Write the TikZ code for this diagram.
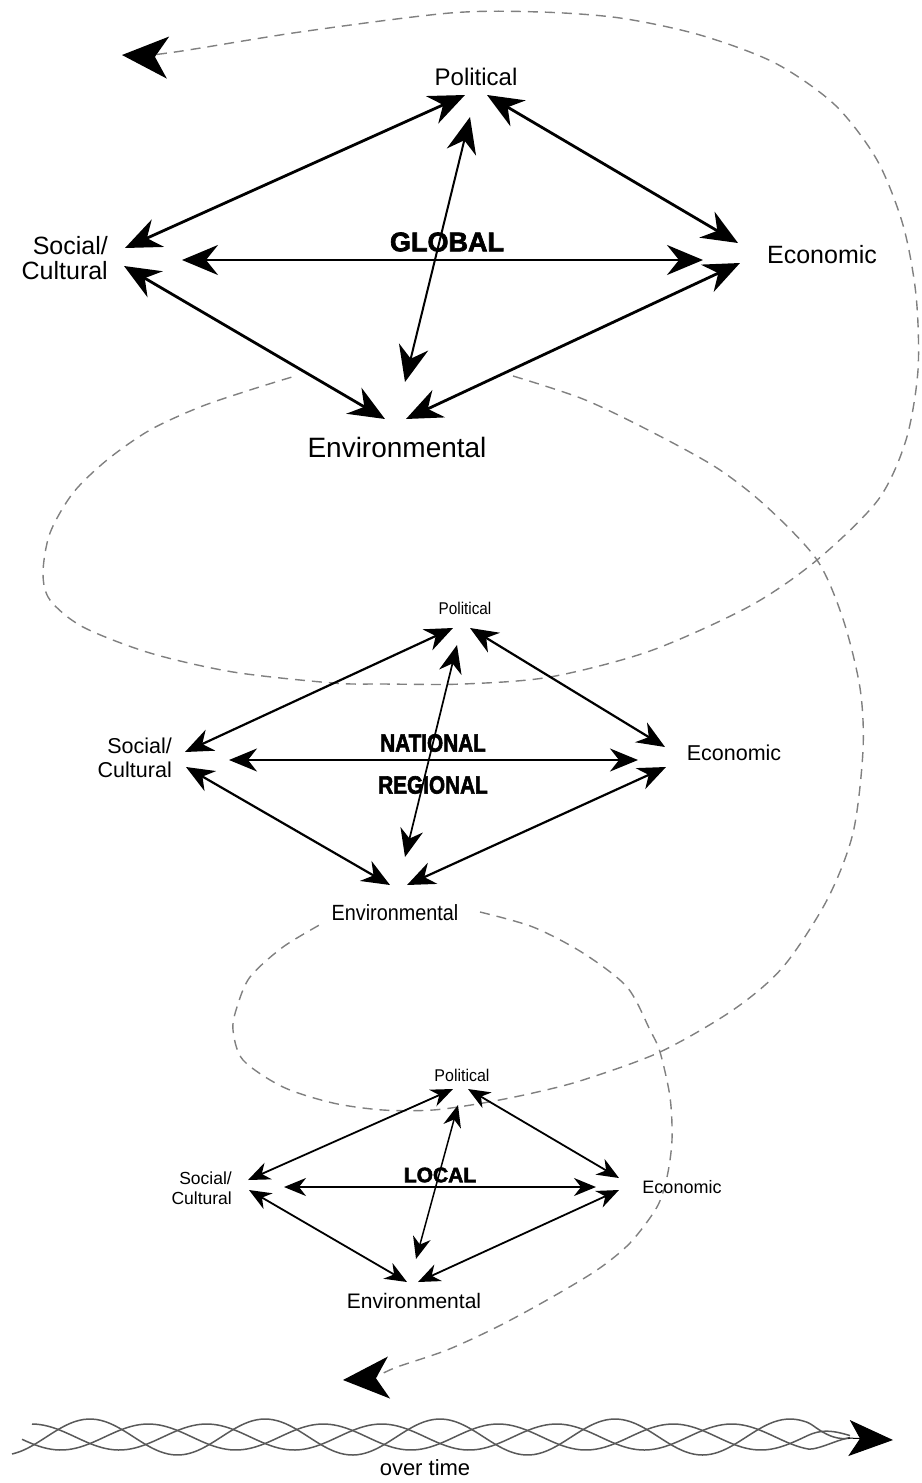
\documentclass[tikz,border=0pt]{standalone}
\usepackage{fontspec}
\setmainfont{Liberation Sans}
\newfontfamily\heavyfont[FakeBold=2.5]{Liberation Sans Bold}
\usetikzlibrary{arrows.meta}

\begin{document}
\begin{tikzpicture}[x=1pt,y=-1pt,
  lbl/.style={inner sep=0pt, font=\fontsize{#1}{#1}\selectfont},
  levelname/.style={inner sep=0pt, font=\heavyfont\fontsize{#1}{#1}\selectfont},
  glink/.style={line width=2.8pt, <->, >={Stealth[length=36pt,width=30pt,inset=12pt]}},
  gaxis/.style={glink, line width=2pt},
  nlink/.style={line width=2.2pt, <->, >={Stealth[length=28pt,width=23pt,inset=9pt]}},
  naxis/.style={nlink, line width=1.7pt},
  llink/.style={line width=1.8pt, <->, >={Stealth[length=22pt,width=18pt,inset=7pt]}},
  laxis/.style={llink, line width=1.5pt},
  coil/.style={draw=black!50, line width=1.4pt, dash pattern=on 10pt off 7pt},
  bigtip/.tip={Stealth[length=46pt,width=42pt,inset=13pt,color=black]},
  strand/.style={draw=black!65, line width=1.5pt}]
\useasboundingbox (0,0) rectangle (921,1483);

\coordinate (coilstart) at (122,55);
\coordinate (coilend) at (343,1380);
\draw[coil, bigtip-] plot[smooth] coordinates {(coilstart) (168,53) (300,32) (450,13) (540,12) (620,18) (700,35) (775,63) (835,105) (877,160) (903,225) (916,295) (918,370) (906,440) (878,500) (817,560) (750,606) (650,651) (550,677) (463,684) (383,684) (333,683) (233,672) (150,653) (83,627) (50,600) (43,573) (50,533) (73,493) (107,460) (150,430) (200,407) (250,390) (292,377)};
\draw[coil] plot[smooth] coordinates {(513,376) (583,399) (650,431) (717,468) (767,507) (817,560) (843,619) (860,688) (863,750) (853,833) (827,900) (783,967) (733,1010) (660,1052) (583,1080) (533,1093) (483,1103) (433,1110) (383,1110) (333,1103) (283,1087) (243,1060) (233,1030) (237,1007) (250,977) (283,947) (323,923)};
\draw[coil, -bigtip] plot[smooth] coordinates {(480,912) (533,927) (583,953) (627,987) (650,1030) (660,1052) (670,1097) (672,1140) (667,1177) (657,1207) (630,1243) (597,1270) (547,1300) (497,1327) (447,1350) (397,1367) (373,1377) (coilend)};

\node[lbl=24] (gpol) at (476,77) {Political};
\node[lbl=25, align=right, anchor=east] (gsoc) at (108,258) {Social/\\Cultural};
\node[lbl=25] (gecon) at (822,255) {Economic};
\node[lbl=28] (genv) at (397,447) {Environmental};
\node[levelname=27] (glevel) at (447,242) {GLOBAL};
\coordinate (gpol-w) at (465,95);
\coordinate (gpol-e) at (487,95);
\coordinate (gpol-s) at (470,117);
\coordinate (gsoc-n) at (125,248);
\coordinate (gsoc-s) at (124,266);
\coordinate (gsoc-e) at (182,260);
\coordinate (gecon-n) at (738,243);
\coordinate (gecon-s) at (740,263);
\coordinate (gecon-w) at (703,260);
\coordinate (genv-w) at (385,419);
\coordinate (genv-e) at (406,419);
\coordinate (genv-n) at (405,382);
\draw[glink] (gpol-w) -- (gsoc-n);
\draw[glink] (gpol-e) -- (gecon-n);
\draw[glink] (gsoc-e) -- (gecon-w);
\draw[glink] (gsoc-s) -- (genv-w);
\draw[glink] (gecon-s) -- (genv-e);
\draw[gaxis] (gpol-s) -- (genv-n);

\node[lbl=17] (npol) at (465,608) {\scalebox{.9}[1]{Political}};
\node[lbl=21.5, align=right, anchor=east, font=\fontsize{21.5}{24}\selectfont] (nsoc) at (172,758) {Social/\\Cultural};
\node[lbl=21.5] (necon) at (734,753) {Economic};
\node[lbl=22] (nenv) at (395,913) {\scalebox{.9}[1]{Environmental}};
\node[levelname=25] (nlevel) at (433,743) {\scalebox{.83}[1]{NATIONAL}};
\node[levelname=25] (rlevel) at (433,785) {\scalebox{.83}[1]{REGIONAL}};
\coordinate (npol-w) at (453,628);
\coordinate (npol-e) at (470,628);
\coordinate (npol-s) at (457,645);
\coordinate (nsoc-n) at (185,752);
\coordinate (nsoc-s) at (186,767);
\coordinate (nsoc-e) at (229,760);
\coordinate (necon-n) at (665,747);
\coordinate (necon-s) at (666,767);
\coordinate (necon-w) at (638,760);
\coordinate (nenv-w) at (390,885);
\coordinate (nenv-e) at (407,885);
\coordinate (nenv-n) at (405,857);
\draw[nlink] (npol-w) -- (nsoc-n);
\draw[nlink] (npol-e) -- (necon-n);
\draw[nlink] (nsoc-e) -- (necon-w);
\draw[nlink] (nsoc-s) -- (nenv-w);
\draw[nlink] (necon-s) -- (nenv-e);
\draw[naxis] (npol-s) -- (nenv-n);

\node[lbl=17] (lpol) at (462,1075) {\scalebox{.94}[1]{Political}};
\node[lbl=17.5, align=right, anchor=east, font=\fontsize{17.5}{20}\selectfont] (lsoc) at (232,1188) {Social/\\Cultural};
\node[lbl=18] (lecon) at (682,1187) {Economic};
\node[lbl=21] (lenv) at (414,1301) {Environmental};
\node[levelname=21] (llevel) at (440,1175) {LOCAL};
\coordinate (lpol-w) at (453,1089);
\coordinate (lpol-e) at (468,1089);
\coordinate (lpol-s) at (458,1105);
\coordinate (lsoc-n) at (248,1180);
\coordinate (lsoc-s) at (249,1190);
\coordinate (lsoc-e) at (284,1187);
\coordinate (lecon-n) at (619,1178);
\coordinate (lecon-s) at (619,1190);
\coordinate (lecon-w) at (596,1187);
\coordinate (lenv-w) at (407,1282);
\coordinate (lenv-e) at (418,1282);
\coordinate (lenv-n) at (416,1259);
\draw[llink] (lpol-w) -- (lsoc-n);
\draw[llink] (lpol-e) -- (lecon-n);
\draw[llink] (lsoc-e) -- (lecon-w);
\draw[llink] (lsoc-s) -- (lenv-w);
\draw[llink] (lecon-s) -- (lenv-e);
\draw[laxis] (lpol-s) -- (lenv-n);

\draw[strand] plot[domain=12:850, samples=200, smooth] (\x, {1437-18*min(1,(855-\x)/45)*cos((\x-90)*2.0571)});
\draw[strand] plot[domain=22:850, samples=200, smooth] (\x, {1437-13*min(1,(855-\x)/45)*cos((\x-90)*2.0571-120)});
\draw[strand] plot[domain=32:850, samples=200, smooth] (\x, {1437-13*min(1,(855-\x)/45)*cos((\x-90)*2.0571+120)});
\coordinate (timefrom) at (848,1438);
\coordinate (timeto) at (893,1440);
\draw[line width=1pt, -{Stealth[length=44pt,width=36pt,inset=11pt]}] (timefrom) -- (timeto);
\node[lbl=22] (overtime) at (425,1468) {over time};
\end{tikzpicture}
\end{document}
